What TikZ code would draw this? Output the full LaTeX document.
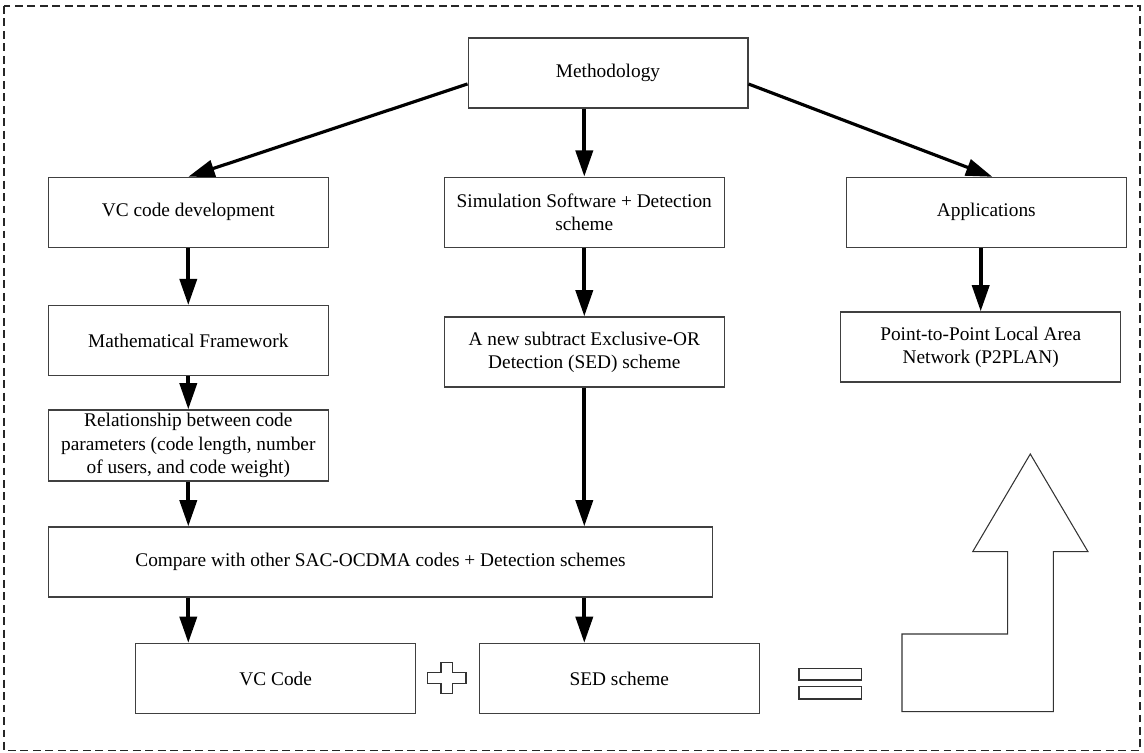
\documentclass[tikz,border=0pt]{standalone}
\usepackage{fontspec}
\setmainfont{Liberation Serif}
\usetikzlibrary{arrows.meta,positioning}

\begin{document}
\begin{tikzpicture}[
  x=0.02cm, y=-0.02cm,
  box/.style={draw=black!75, line width=0.6pt, minimum width=5.6cm, minimum height=1.4cm,
    align=center, inner sep=2pt, font=\fontsize{11}{13.2}\selectfont},
  flow/.style={-{Triangle[width=9.6pt,length=15pt]}, line width=2.4pt},
  slant/.style={-{Triangle[width=9.6pt,length=15pt]}, line width=1.8pt},
  sign/.style={draw=black!80, line width=0.6pt, fill=white},
]

% Column centres
\def\lx{188.3}    % left column
\def\mx{584.3}    % middle column
\def\rx{986.3}    % right column

\useasboundingbox (0,0) rectangle (1144,753);

% outer frame
\draw[black!85, line width=0.6pt, dash pattern=on 4.5pt off 2.6pt]
  (4,6) rectangle (1140,750.5);

% ============================================================
% TOP
% ============================================================
\node[box] (meth) at (608,73) {Methodology};

\node[box] (vcdev) at (\lx,212.3) {VC code development};
\node[box] (sim)   at (\mx,212.3) {Simulation Software + Detection\\scheme};
\node[box] (apps)  at (\rx,212.3) {Applications};

\draw[slant] ([yshift=-0.22cm]meth.west) -- (vcdev.north);
\draw[flow]  (meth.south -| sim.north) -- (sim.north);
\draw[slant] ([yshift=-0.22cm]meth.east) -- ([xshift=0.12cm]apps.north);

% ============================================================
% LEFT COLUMN
% ============================================================
\node[box] (math) at (\lx,340.7) {Mathematical Framework};
\node[box] (rel)  at (\lx,445.5) {Relationship between code\\parameters (code length, number\\of users, and code weight)};

\draw[flow] (vcdev.south) -- (math.north);
\draw[flow] (math.south) -- (rel.north);

% ============================================================
% MIDDLE / RIGHT COLUMN
% ============================================================
\node[box] (sub) at (\mx,352) {A new subtract Exclusive-OR\\Detection (SED) scheme};
\node[box] (p2p) at (980.7,347) {Point-to-Point Local Area\\Network (P2PLAN)};

\draw[flow] (sim.south) -- (sub.north);
\draw[flow] (p2p.north |- apps.south) -- (p2p.north);

% ============================================================
% COMPARISON AND RESULT
% ============================================================
\node[box, minimum width=13.29cm] (cmp) at (380.5,562)
  {Compare with other SAC-OCDMA codes + Detection schemes};

\draw[flow] (rel.south) -- (rel.south |- cmp.north);
\draw[flow] (sub.south) -- (sub.south |- cmp.north);

\node[box] (vccode) at (275.7,678.5) {VC Code};
\node[box] (sed)    at (619.3,678.5) {SED scheme};

\draw[flow] (vcdev.south |- cmp.south) -- (vcdev.south |- vccode.north);
\draw[flow] (sim.south |- cmp.south) -- (sim.south |- sed.north);

% plus sign
\draw[sign] (441,662.7) -- (452.3,662.7) -- (452.3,672.3) -- (466,672.3)
  -- (466,683.3) -- (452.3,683.3) -- (452.3,693.3) -- (441,693.3)
  -- (441,683.3) -- (427.3,683.3) -- (427.3,672.3) -- (441,672.3) -- cycle;

% equals sign
\draw[sign] (799,668.3) rectangle (861.7,680);
\draw[sign] (799,686.7) rectangle (861.7,699);

% big bent arrow
\draw[sign] (1030.3,454) -- (1088,551.7) -- (1053.3,551.7) -- (1053.3,711.7)
  -- (902,711.7) -- (902,634) -- (1007.7,634) -- (1007.7,551.7)
  -- (972.7,551.7) -- cycle;

\end{tikzpicture}
\end{document}
